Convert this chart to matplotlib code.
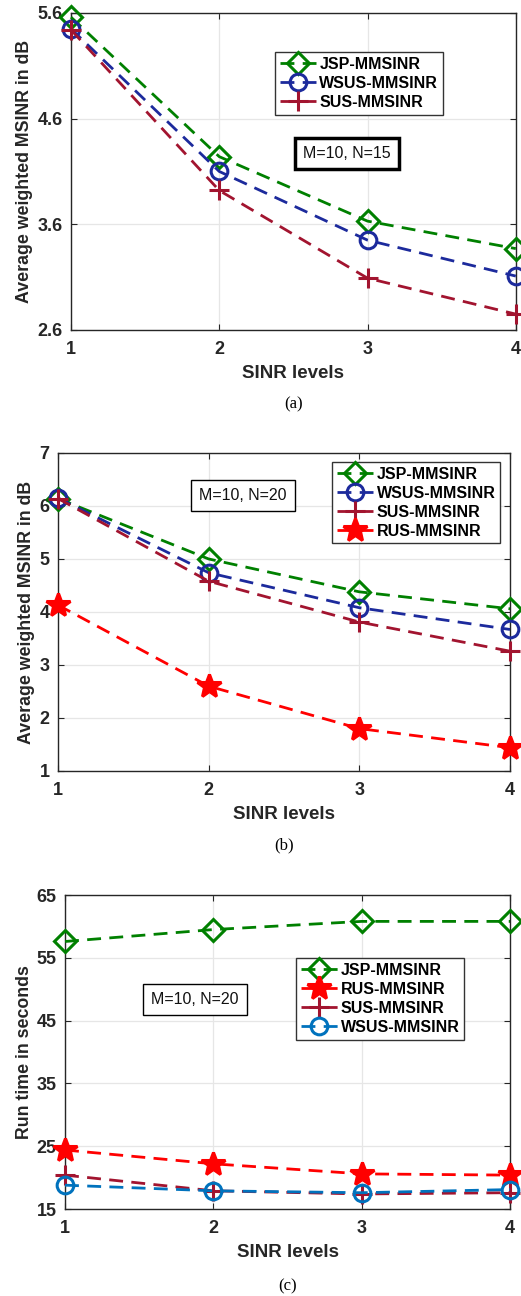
import matplotlib
matplotlib.use('Agg')
import matplotlib.pyplot as plt

plt.rcParams['font.family'] = ['Liberation Sans', 'DejaVu Sans']

# ---------------------------------------------------------------- data

sinr_levels = [1, 2, 3, 4]

# (a) M=10, N=15
a_jsp = [5.56, 4.24, 3.63, 3.37]
a_wsus = [5.45, 4.10, 3.45, 3.11]
a_sus = [5.44, 3.92, 3.09, 2.75]

# (b) M=10, N=20
b_jsp = [6.14, 5.00, 4.38, 4.06]
b_wsus = [6.15, 4.74, 4.08, 3.67]
b_sus = [6.14, 4.58, 3.81, 3.26]
b_rus = [4.13, 2.60, 1.80, 1.44]

# (c) run time, M=10, N=20
c_jsp = [57.6, 59.5, 60.8, 60.8]
c_rus = [24.4, 22.2, 20.6, 20.4]
c_sus = [20.4, 17.9, 17.4, 17.6]
c_wsus = [18.8, 17.9, 17.6, 18.1]

GREEN = '#008000'
NAVY = '#1c2a9c'
WINE = '#a2142f'
RED = '#ff0000'
MBLUE = '#0072bd'

STYLE = {
    'JSP': dict(color=GREEN, marker='D', markersize=11, mfc='none'),
    'WSUS': dict(color=NAVY, marker='o', markersize=12, mfc='none'),
    'SUS': dict(color=WINE, marker='+', markersize=15),
    'RUS': dict(color=RED, marker='*', markersize=18),
}


def series(ax, y, key, label, color=None):
    st = dict(STYLE[key])
    if color is not None:
        st['color'] = color
    ax.plot(sinr_levels, y, ls=(0, (5, 3)), lw=2, mew=2.2, label=label,
            clip_on=False, zorder=3, **st)


def dress(ax, ylim, yticks, ylabel, legend_xy, box_text, box_xy, box_lw, caption):
    ax.set_xlim(1, 4)
    ax.set_ylim(*ylim)
    ax.set_xticks(sinr_levels)
    ax.set_yticks(yticks)
    ax.grid(True, color='#e6e6e6', lw=0.9)
    ax.set_axisbelow(True)
    for s in ax.spines.values():
        s.set_color('#262626')
        s.set_linewidth(1.0)
    ax.tick_params(direction='in', top=True, right=True, length=4,
                   labelsize=13, colors='#262626')
    ax.tick_params(axis='x', pad=8)
    ax.tick_params(axis='y', pad=6)
    for lab in ax.get_xticklabels() + ax.get_yticklabels():
        lab.set_fontweight('bold')
    ax.set_xlabel('SINR levels', fontsize=13.5, fontweight='bold', color='#262626', labelpad=5)
    ax.set_ylabel(ylabel, fontsize=12.8, fontweight='bold', color='#262626', labelpad=3)
    leg = ax.legend(loc='upper left', bbox_to_anchor=legend_xy, fancybox=False,
                    framealpha=1, edgecolor='#333333', handlelength=2.3,
                    handletextpad=0.2, labelspacing=0.25, borderpad=0.3,
                    borderaxespad=0, prop=dict(weight='bold', size=11.5))
    leg.get_frame().set_linewidth(1.0)
    ax.text(box_xy[0], box_xy[1], box_text, transform=ax.transAxes, ha='center',
            va='center', fontsize=11.5, color='#111111', zorder=5,
            bbox=dict(boxstyle='square,pad=0.5', fc='white', ec='black', lw=box_lw))
    ax.text(0.5, caption, '(' + 'abc'[dress.n] + ')', transform=ax.transAxes,
            ha='center', va='center', fontsize=12, family='Liberation Serif')
    dress.n += 1


dress.n = 0

fig = plt.figure(figsize=(5.21, 12.96), dpi=100)

ax1 = fig.add_axes([0.1363, 0.7454, 0.8537, 0.2446])
series(ax1, a_jsp, 'JSP', 'JSP-MMSINR')
series(ax1, a_wsus, 'WSUS', 'WSUS-MMSINR')
series(ax1, a_sus, 'SUS', 'SUS-MMSINR')
dress(ax1, (2.6, 5.6), [2.6, 3.6, 4.6, 5.6], 'Average weighted MSINR in dB',
      (0.458, 0.877), 'M=10, N=15', (0.62, 0.558), 2.5, -0.235)

ax2 = fig.add_axes([0.1113, 0.4051, 0.8676, 0.2454])
series(ax2, b_jsp, 'JSP', 'JSP-MMSINR')
series(ax2, b_wsus, 'WSUS', 'WSUS-MMSINR')
series(ax2, b_sus, 'SUS', 'SUS-MMSINR')
series(ax2, b_rus, 'RUS', 'RUS-MMSINR')
dress(ax2, (1, 7), [1, 2, 3, 4, 5, 6, 7], 'Average weighted MSINR in dB',
      (0.606, 0.972), 'M=10, N=20', (0.409, 0.866), 1.0, -0.235)

ax3 = fig.add_axes([0.1248, 0.0671, 0.8542, 0.2423])
series(ax3, c_jsp, 'JSP', 'JSP-MMSINR')
series(ax3, c_rus, 'RUS', 'RUS-MMSINR')
series(ax3, c_sus, 'SUS', 'SUS-MMSINR')
series(ax3, c_wsus, 'WSUS', 'WSUS-MMSINR', color=MBLUE)
dress(ax3, (15, 65), [15, 25, 35, 45, 55, 65], 'Run time in seconds',
      (0.519, 0.799), 'M=10, N=20', (0.292, 0.666), 1.0, -0.245)

fig.savefig('out.png', dpi=100)
